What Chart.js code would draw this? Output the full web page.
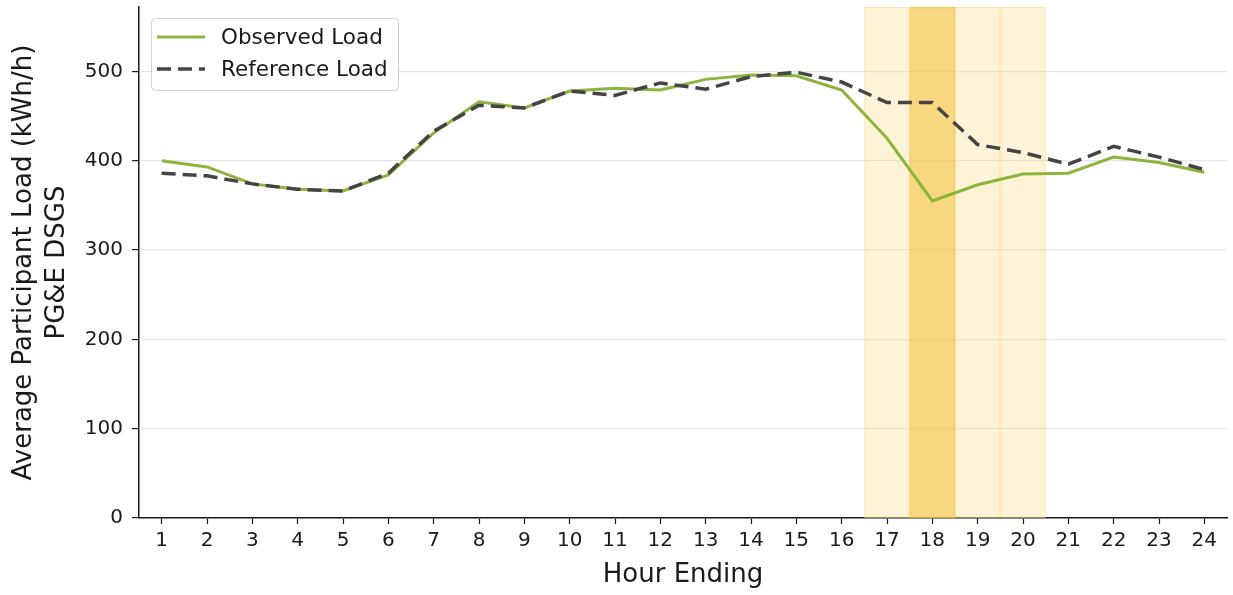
<!DOCTYPE html>
<html>
<head>
<meta charset="utf-8">
<script src="https://cdn.jsdelivr.net/npm/chart.js@4.4.1/dist/chart.umd.min.js"></script>
<style>
  html, body { margin: 0; padding: 0; background: #ffffff; }
  #wrap { width: 1233px; height: 595px; position: relative; }
</style>
</head>
<body>
<div id="wrap"><canvas id="c" width="1233" height="595"></canvas></div>
<script>
// ---- data ----
const hours = [1,2,3,4,5,6,7,8,9,10,11,12,13,14,15,16,17,18,19,20,21,22,23,24];
const observedLoad = [400,393,374,368,366,384,431,466,459,478,481,479,491,496,495,479,425,355,373,385,386,404,398,387];
const referenceLoad = [386,383,374,368,366,386,433,462,459,478,473,487,480,494,499,488,465,465,418,409,396,416,404,390];
const yTicks = [0,100,200,300,400,500];
const shadeHours = [17,18,19,20];
const shadeLevel = ['light','dark','light','light'];
const seriesLabels = ['Observed Load','Reference Load'];

const FONT = "'DejaVu Sans', sans-serif";
const GREEN = '#8db43d';
const GREY = '#444444';
const TXT = '#1a1a1a';

const shadePlugin = {
  id: 'shade',
  beforeDatasetsDraw(chart) {
    const {ctx, chartArea, scales} = chart;
    const x = scales.x;
    ctx.save();
    shadeHours.forEach((h, i) => {
      const x0 = x.getPixelForValue(h - 0.5);
      const x1 = x.getPixelForValue(h + 0.5);
      ctx.fillStyle = shadeLevel[i] === 'dark' ? 'rgba(245,200,80,0.72)' : 'rgba(250,222,140,0.34)';
      ctx.fillRect(x0, chartArea.top, x1 - x0, chartArea.bottom - chartArea.top);
      ctx.strokeStyle = shadeLevel[i] === 'dark' ? 'rgba(240,195,70,0.5)' : 'rgba(245,210,120,0.35)';
      ctx.lineWidth = 1.2;
      ctx.strokeRect(x0 + 0.6, chartArea.top + 0.6, x1 - x0 - 1.2, chartArea.bottom - chartArea.top - 1.2);
    });
    ctx.restore();
  }
};

const legendPlugin = {
  id: 'boxLegend',
  afterDatasetsDraw(chart) {
    const {ctx, chartArea} = chart;
    const bx = chartArea.left + 12, by = chartArea.top + 11, bw = 247, bh = 72;
    ctx.save();
    ctx.beginPath();
    ctx.roundRect(bx + 0.5, by + 0.5, bw, bh, 4);
    ctx.fillStyle = 'rgba(255,255,255,0.85)';
    ctx.fill();
    ctx.strokeStyle = '#d0d0d0';
    ctx.lineWidth = 1;
    ctx.stroke();
    chart.data.datasets.forEach((ds, i) => {
      const cy = by + 19 + i * 32;
      ctx.beginPath();
      ctx.setLineDash(ds.borderDash || []);
      ctx.lineCap = 'butt';
      ctx.strokeStyle = ds.borderColor;
      ctx.lineWidth = ds.borderWidth;
      ctx.moveTo(bx + 6, cy);
      ctx.lineTo(bx + 54, cy);
      ctx.stroke();
      ctx.setLineDash([]);
      ctx.fillStyle = TXT;
      ctx.font = '21.5px ' + FONT;
      ctx.textBaseline = 'middle';
      ctx.textAlign = 'left';
      ctx.fillText(ds.label, bx + 70, cy + 1);
    });
    ctx.restore();
  }
};

new Chart(document.getElementById('c'), {
  type: 'line',
  data: {
    datasets: [
      {
        label: seriesLabels[0],
        data: hours.map((h, i) => ({x: h, y: observedLoad[i]})),
        borderColor: GREEN,
        backgroundColor: GREEN,
        borderWidth: 3,
        pointRadius: 0,
        tension: 0,
        fill: false,
        order: 2
      },
      {
        label: seriesLabels[1],
        data: hours.map((h, i) => ({x: h, y: referenceLoad[i]})),
        borderColor: GREY,
        backgroundColor: GREY,
        borderWidth: 3.5,
        borderDash: [14, 7],
        borderCapStyle: 'butt',
        pointRadius: 0,
        tension: 0,
        fill: false,
        order: 1
      }
    ]
  },
  options: {
    responsive: false,
    animation: false,
    layout: { padding: { left: 0, right: 6, top: 7, bottom: 0 } },
    plugins: {
      legend: { display: false },
      tooltip: { enabled: false }
    },
    scales: {
      x: {
        type: 'linear',
        min: 0.5,
        max: 24.5,
        afterBuildTicks(scale) { scale.ticks = hours.map(h => ({value: h})); },
        afterFit(scale) { scale.height = 77; scale.paddingLeft = 0; scale.paddingRight = 0; },
        ticks: { font: { family: FONT, size: 20 }, color: TXT, padding: 5, maxRotation: 0, autoSkip: false },
        grid: { drawOnChartArea: false, drawTicks: true, tickLength: 6, tickColor: TXT, tickWidth: 1.2 },
        border: { display: true, color: TXT, width: 1.5 },
        title: { display: true, text: 'Hour Ending', font: { family: FONT, size: 26, lineHeight: 1.2 }, color: TXT, padding: { top: 2, bottom: 4 } }
      },
      y: {
        min: 0,
        max: 572,
        afterBuildTicks(scale) { scale.ticks = yTicks.map(v => ({value: v})); },
        afterFit(scale) { scale.width = 139; scale.paddingTop = 0; scale.paddingBottom = 0; },
        ticks: { font: { family: FONT, size: 20 }, color: TXT, padding: 9 },
        grid: { color: '#e6e6e6', lineWidth: 1.2, drawTicks: true, tickLength: 7, tickColor: TXT, tickWidth: 1.2 },
        border: { display: true, color: TXT, width: 1.5 },
        title: { display: true, text: ['Average Participant Load (kWh/h)', 'PG&E DSGS'], font: { family: FONT, size: 26, lineHeight: 1.3 }, color: TXT, padding: { top: 7, bottom: 0 } }
      }
    }
  },
  plugins: [shadePlugin, legendPlugin]
});
</script>
</body>
</html>
